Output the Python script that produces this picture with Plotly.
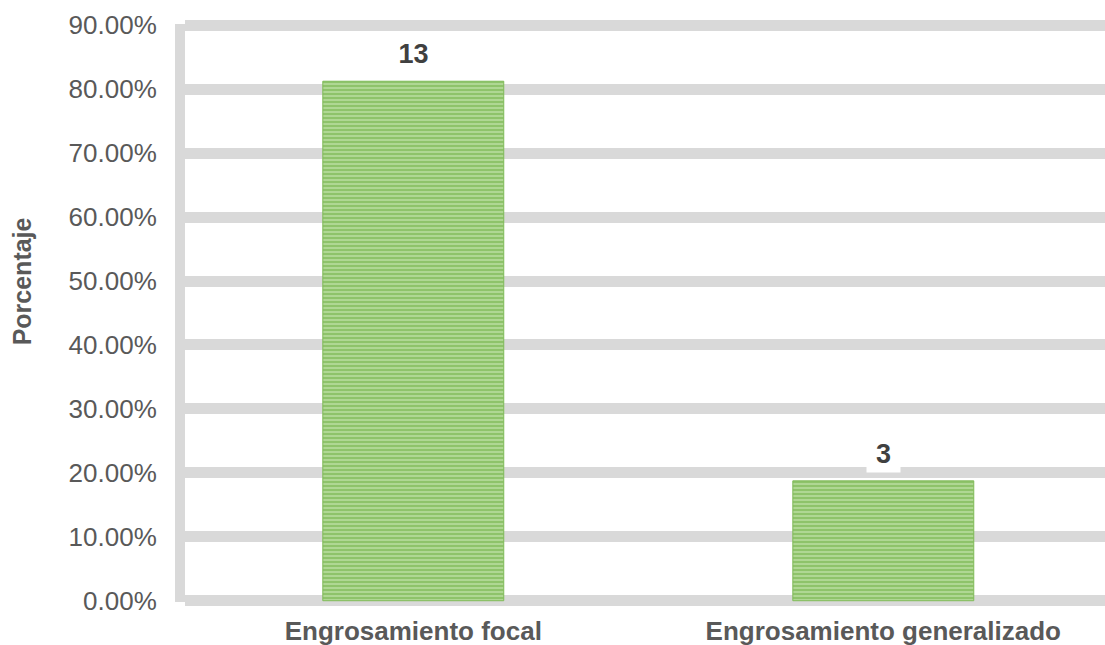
import plotly.graph_objects as go

categories = ["Engrosamiento focal", "Engrosamiento generalizado"]
counts = [13, 3]
percentages = [0.8125, 0.1875]
y_ticks = [0, 0.1, 0.2, 0.3, 0.4, 0.5, 0.6, 0.7, 0.8, 0.9]

FONT = "Liberation Sans, Arial, sans-serif"
GRID = "#d9d9d9"
TXT = "#595959"

fig = go.Figure()
fig.add_trace(go.Bar(
    x=categories,
    y=percentages,
    width=0.385,
    marker=dict(
        color="#b2d998",
        pattern=dict(shape="-", fgcolor="#6aae3c", size=4, solidity=0.55),
        line=dict(color="#7fba58", width=1),
    ),
    hoverinfo="skip",
))

for c, n, p in zip(categories, counts, percentages):
    fig.add_annotation(
        x=c, y=p, text="<b>%d</b>" % n, showarrow=False,
        yanchor="bottom", yshift=8,
        bgcolor="white", width=33, height=36, borderpad=0,
        font=dict(family=FONT, size=27, color="#404040"),
    )

fig.add_annotation(
    xref="paper", yref="paper", x=-0.177, y=0.555,
    text="<b>Porcentaje</b>", textangle=-90, showarrow=False,
    xanchor="center", yanchor="middle",
    font=dict(family=FONT, size=25, color=TXT),
)

fig.update_layout(
    width=1105, height=645,
    margin=dict(l=185, r=0, t=24, b=43),
    paper_bgcolor="white", plot_bgcolor="white",
    showlegend=False,
    font=dict(family=FONT, color=TXT),
)
fig.update_yaxes(
    range=[-0.002, 0.902], tickvals=y_ticks, tickformat=".2%",
    showgrid=True, gridcolor=GRID, gridwidth=11,
    showline=True, linecolor=GRID, linewidth=10,
    zeroline=False, ticks="", ticklabelstandoff=13,
    tickfont=dict(family=FONT, size=26, color=TXT),
)
fig.update_xaxes(
    range=[-0.4857, 1.4717],
    showgrid=False, showline=False, zeroline=False, ticks="",
    ticklabelstandoff=11,
    tickfont=dict(family=FONT, size=26, color=TXT),
    tickvals=categories, ticktext=["<b>%s</b>" % c for c in categories],
)

fig.write_html("out.html", config={"displayModeBar": False})
